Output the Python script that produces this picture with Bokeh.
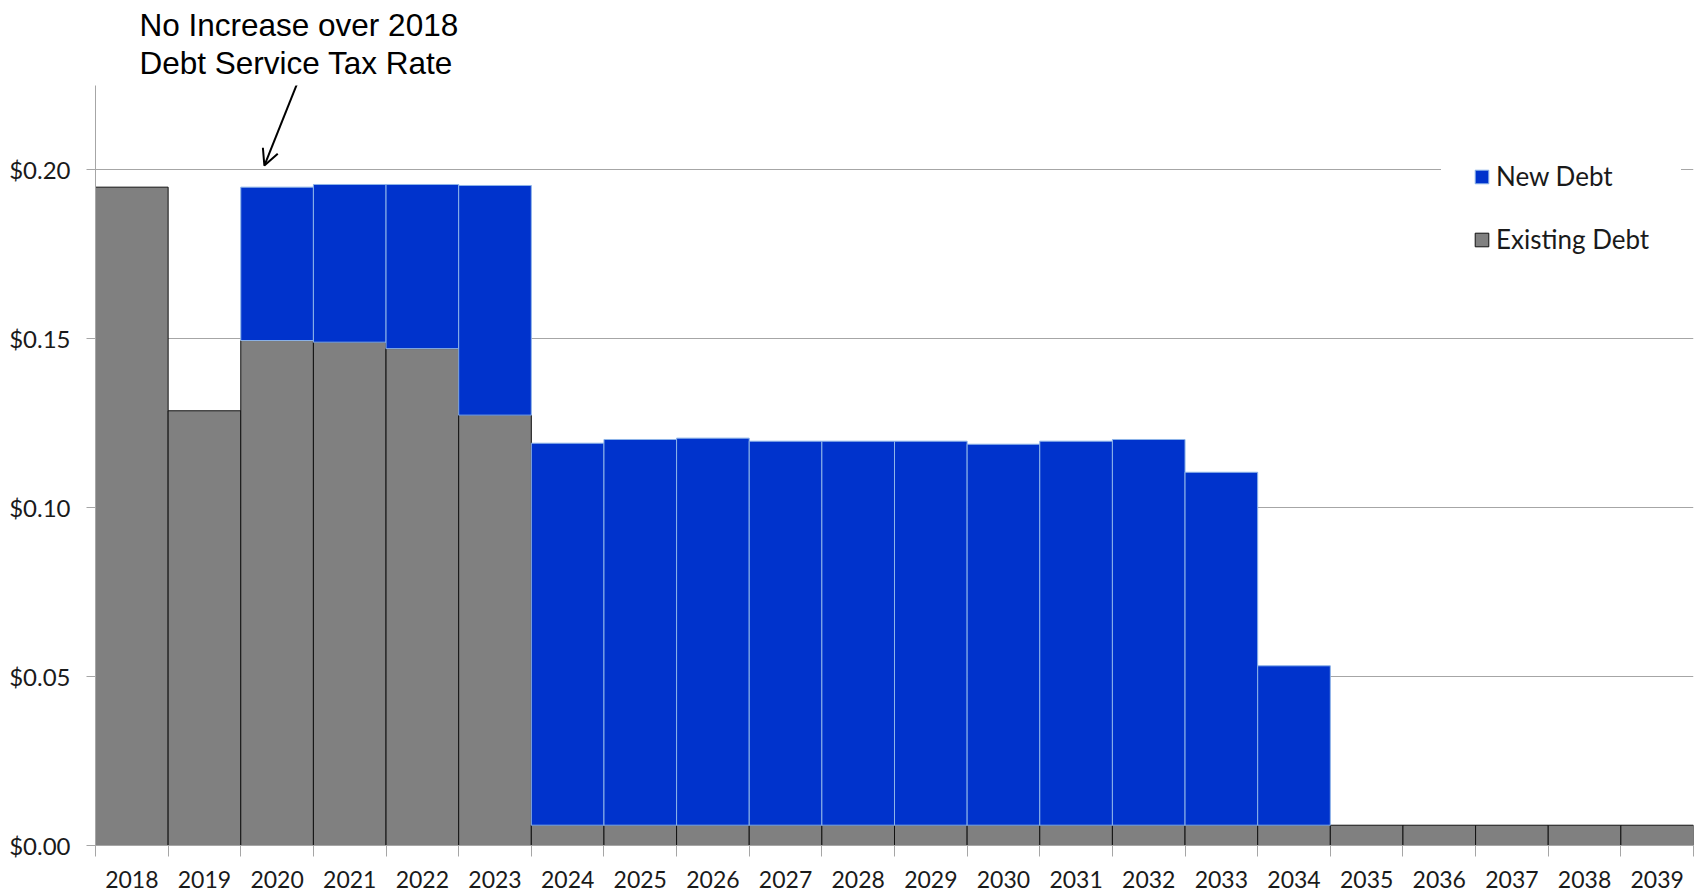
from bokeh.plotting import figure
from bokeh.models import (ColumnDataSource, Range1d, FixedTicker, NumeralTickFormatter,
                          Legend, LegendItem, Title, Arrow, OpenHead)
from bokeh.embed import file_html
from bokeh.resources import INLINE

# ---------------- data ----------------
years = [str(y) for y in range(2018, 2040)]
existing_debt = [0.1949, 0.1287, 0.1495, 0.1490, 0.1471, 0.1274,
                 0.0060, 0.0060, 0.0060, 0.0060, 0.0060, 0.0060, 0.0060, 0.0060,
                 0.0060, 0.0060, 0.0060, 0.0060, 0.0060, 0.0060, 0.0060, 0.0060]
new_debt = [0.0, 0.0, 0.0454, 0.0467, 0.0486, 0.0680,
            0.1131, 0.1142, 0.1146, 0.1137, 0.1137, 0.1137, 0.1128, 0.1137,
            0.1142, 0.1045, 0.0472, 0.0, 0.0, 0.0, 0.0, 0.0]
y_ticks = [0.0, 0.05, 0.10, 0.15, 0.20]
annotation_lines = ["No Increase over 2018", "Debt Service Tax Rate"]

# ---------------- sources ----------------
xs = [i + 0.5 for i in range(len(years))]
src_exist = ColumnDataSource(dict(x=xs, top=existing_debt, bottom=[0.0] * len(xs)))
nx, nb, nt = [], [], []
for x, e, n in zip(xs, existing_debt, new_debt):
    if n > 0:
        nx.append(x); nb.append(e); nt.append(e + n)
src_new = ColumnDataSource(dict(x=nx, top=nt, bottom=nb))

FONT = "Lato"
TXT = "#1a1a1a"
GRID = "#a6a6a6"

p = figure(frame_width=1598, frame_height=760,
           x_range=Range1d(0, len(years)), y_range=Range1d(0, 0.2250),
           output_backend="svg", toolbar_location=None,
           min_border_left=95, min_border_right=3, min_border_top=84, min_border_bottom=48)
p.outline_line_color = None
p.background_fill_color = "white"

r_exist = p.vbar(x="x", top="top", bottom="bottom", width=1.0, source=src_exist,
                 fill_color="#808080", line_color="#111111", line_width=1)
r_new = p.vbar(x="x", top="top", bottom="bottom", width=1.0, source=src_new,
               fill_color="#0033cc", line_color="#8db4e8", line_width=1)

# x axis: labels at category centres, tick marks at boundaries (minor ticks)
xa = p.xaxis[0]
xa.ticker = FixedTicker(ticks=xs, minor_ticks=list(range(len(years) + 1)))
xa.major_label_overrides = {x: y for x, y in zip(xs, years)}
xa.major_tick_line_color = None
xa.major_tick_out = 0
xa.major_tick_in = 0
xa.minor_tick_line_color = GRID
xa.minor_tick_out = 11
xa.minor_tick_in = 0
xa.axis_line_color = GRID
xa.major_label_standoff = 14
xa.major_label_text_font = FONT
xa.major_label_text_font_size = "23px"
xa.major_label_text_color = TXT

ya = p.yaxis[0]
ya.ticker = FixedTicker(ticks=y_ticks)
ya.formatter = NumeralTickFormatter(format="$0.00")
ya.major_tick_line_color = GRID
ya.major_tick_out = 9
ya.major_tick_in = 0
ya.minor_tick_line_color = None
ya.axis_line_color = GRID
ya.major_label_standoff = 16
ya.major_label_text_font = FONT
ya.major_label_text_font_size = "24px"
ya.major_label_text_color = TXT

p.xgrid.grid_line_color = None
p.ygrid.grid_line_color = GRID
p.ygrid.ticker = FixedTicker(ticks=y_ticks)

# legend: white border around it hides the grid line behind it
legend = Legend(items=[LegendItem(label="New Debt", renderers=[r_new]),
                       LegendItem(label="Existing Debt", renderers=[r_exist])],
                location=(1346, 558), orientation="vertical",
                padding=0, margin=0, spacing=31,
                glyph_width=17, glyph_height=17, label_height=30, label_standoff=6,
                label_text_font=FONT, label_text_font_size="26px", label_text_color=TXT,
                background_fill_color="white", background_fill_alpha=1.0,
                border_line_color="white", border_line_width=32, border_line_alpha=1.0)
p.add_layout(legend)

# annotation text (one two-line title above the frame) and arrow
p.add_layout(Title(text="\n".join(annotation_lines), align="left", offset=44, standoff=9,
                   text_font="Liberation Sans", text_font_size="31.5px",
                   text_line_height=1.06,
                   text_font_style="normal", text_color="black"), "above")
p.add_layout(Arrow(end=OpenHead(size=16, line_width=2, line_color="black"),
                   x_start=2.773, y_start=0.2254, x_end=2.325, y_end=0.2013,
                   line_width=2, line_color="black"))

open("out.html", "w").write(file_html(p, INLINE))
